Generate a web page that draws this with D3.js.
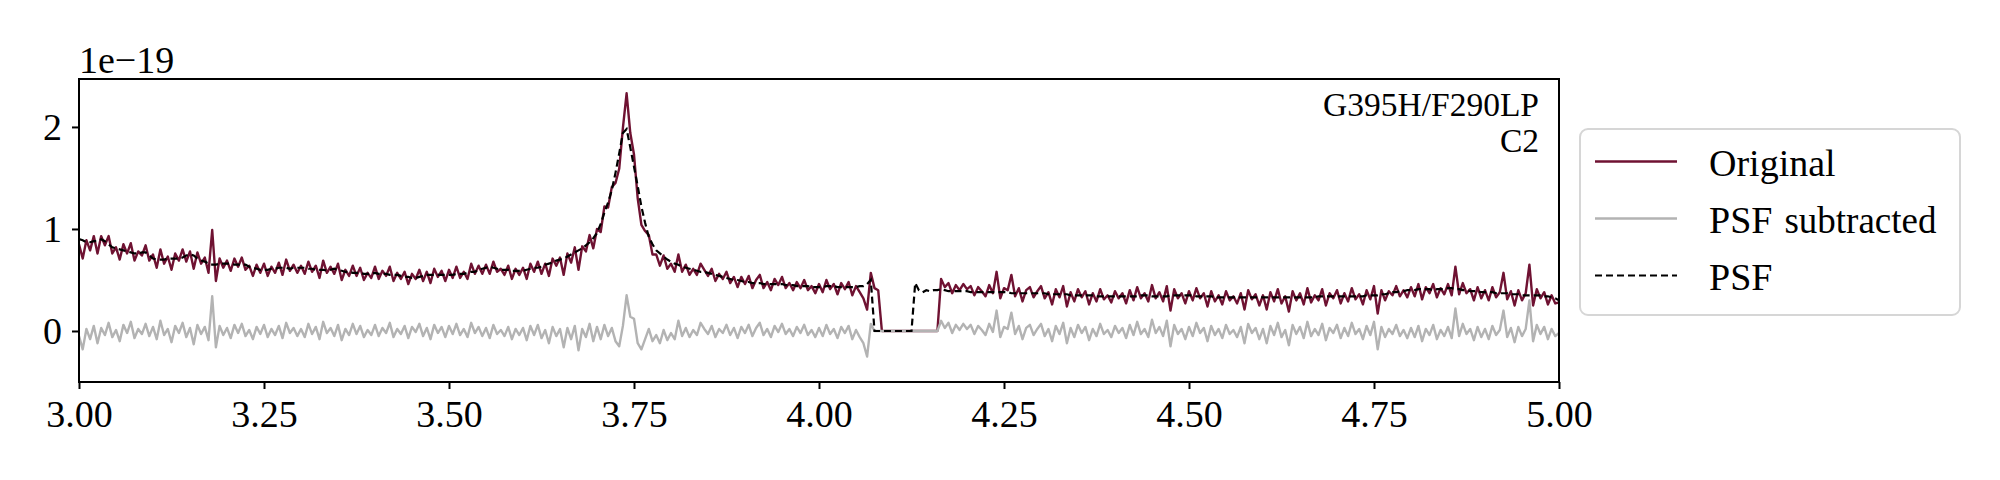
<!DOCTYPE html>
<html><head><meta charset="utf-8">
<script src="https://cdn.jsdelivr.net/npm/d3@7"></script>
<style>body{margin:0;background:#fff;}svg{display:block;}</style>
</head><body>
<svg id="chart" width="2000" height="480"></svg>
<script>
// Sampling grid of the spectrum (micron)
const lambdaStart = 3.0;
const lambdaStep = 0.005;

// PSF model (units of 1e-19)
const psf = [
0.90,0.89,0.87,0.87,0.88,0.88,0.90,0.88,0.85,0.82,0.81,0.80,0.79,0.78,0.77,0.76,0.76,0.77,0.77,0.74,
0.71,0.70,0.70,0.70,0.71,0.71,0.71,0.71,0.72,0.74,0.75,0.74,0.71,0.69,0.68,0.66,0.65,0.65,0.66,0.66,
0.66,0.66,0.65,0.65,0.65,0.65,0.63,0.62,0.61,0.60,0.60,0.60,0.61,0.61,0.62,0.62,0.62,0.61,0.62,0.62,
0.62,0.62,0.61,0.61,0.60,0.60,0.60,0.59,0.60,0.61,0.60,0.59,0.58,0.58,0.57,0.57,0.57,0.56,0.56,0.56,
0.57,0.56,0.56,0.56,0.55,0.55,0.55,0.54,0.53,0.53,0.52,0.52,0.53,0.54,0.55,0.55,0.55,0.55,0.55,0.55,
0.55,0.55,0.56,0.56,0.56,0.57,0.58,0.58,0.60,0.61,0.62,0.63,0.62,0.61,0.60,0.60,0.60,0.59,0.59,0.59,
0.59,0.60,0.61,0.62,0.62,0.63,0.65,0.66,0.67,0.69,0.70,0.71,0.73,0.75,0.77,0.79,0.81,0.84,0.87,0.91,
0.96,1.05,1.16,1.26,1.38,1.55,1.74,1.94,1.98,1.80,1.61,1.42,1.22,1.06,0.92,0.85,0.79,0.76,0.73,0.70,
0.68,0.66,0.65,0.63,0.62,0.61,0.60,0.59,0.58,0.58,0.57,0.56,0.55,0.54,0.53,0.52,0.51,0.50,0.50,0.49,
0.48,0.48,0.47,0.47,0.47,0.46,0.46,0.46,0.46,0.46,0.46,0.45,0.45,0.45,0.44,0.44,0.44,0.44,0.43,0.43,
0.43,0.43,0.44,0.44,0.44,0.43,0.43,0.43,0.43,0.43,0.43,0.44,0.44,0.46,0.50,0,0,
0,0,0,0,0,0,0,0,0,0.47,0.40,0.38,0.40,0.39,0.40,0.40,
0.41,0.40,0.39,0.39,0.39,0.39,0.39,
0.39,0.38,0.38,0.38,0.38,0.38,0.38,0.38,0.38,0.38,0.38,0.38,0.37,0.37,0.37,0.37,0.37,0.37,0.37,0.37,
0.37,0.37,0.36,0.36,0.36,0.36,0.36,0.36,0.35,0.35,0.35,0.35,0.35,0.35,0.35,0.34,0.34,0.34,0.34,0.34,
0.34,0.34,0.34,0.34,0.34,0.34,0.34,0.35,0.35,0.35,0.34,0.34,0.34,0.34,0.34,0.35,0.35,0.35,0.35,0.35,
0.35,0.35,0.34,0.34,0.34,0.34,0.34,0.33,0.33,0.33,0.33,0.33,0.33,0.33,0.33,0.33,0.33,0.33,0.33,0.33,
0.33,0.33,0.33,0.33,0.33,0.33,0.33,0.33,0.33,0.33,0.33,0.33,0.33,0.33,0.33,0.34,0.34,0.34,0.34,0.34,
0.34,0.34,0.34,0.34,0.34,0.34,0.34,0.34,0.35,0.35,0.35,0.35,0.36,0.36,0.37,0.38,0.38,0.39,0.39,0.40,
0.40,0.40,0.41,0.41,0.41,0.41,0.40,0.41,0.41,0.41,0.42,0.42,0.41,0.41,0.40,0.40,0.39,0.39,0.39,0.38,
0.38,0.38,0.38,0.37,0.37,0.37,0.37,0.36,0.36,0.36,0.35,0.35,0.35,0.35,0.35,0.35,0.34,0.34,0.33,0.32,0.30
];

// Original spectrum (units of 1e-19)
const original = [
0.85,0.71,0.89,0.79,0.93,0.76,0.93,0.84,0.93,0.76,0.82,0.70,0.85,0.76,0.86,0.69,0.78,0.74,0.84,0.69,
0.75,0.62,0.80,0.66,0.73,0.60,0.76,0.69,0.80,0.68,0.78,0.61,0.77,0.66,0.72,0.57,0.99,0.49,0.71,0.62,
0.69,0.59,0.71,0.63,0.72,0.60,0.64,0.54,0.65,0.57,0.66,0.54,0.63,0.57,0.67,0.55,0.70,0.59,0.65,0.57,
0.64,0.56,0.68,0.58,0.64,0.52,0.69,0.57,0.63,0.56,0.66,0.50,0.60,0.54,0.64,0.54,0.62,0.50,0.57,0.52,
0.63,0.51,0.59,0.54,0.63,0.49,0.57,0.51,0.58,0.46,0.56,0.51,0.60,0.49,0.58,0.47,0.61,0.53,0.59,0.49,
0.60,0.52,0.63,0.52,0.58,0.51,0.66,0.56,0.64,0.56,0.65,0.56,0.68,0.58,0.61,0.55,0.64,0.51,0.61,0.55,
0.62,0.51,0.66,0.58,0.68,0.56,0.66,0.54,0.71,0.64,0.72,0.55,0.76,0.67,0.82,0.60,0.83,0.78,0.94,0.81,
1.00,0.97,1.22,1.21,1.41,1.45,1.59,1.99,2.33,1.94,1.73,1.30,1.04,0.98,0.94,0.75,0.75,0.64,0.74,0.61,
0.66,0.58,0.75,0.58,0.65,0.55,0.61,0.55,0.66,0.60,0.54,0.61,0.49,0.56,0.51,0.58,0.47,0.53,0.43,0.53,
0.46,0.54,0.42,0.50,0.55,0.42,0.48,0.40,0.51,0.45,0.53,0.42,0.47,0.40,0.48,0.42,0.50,0.40,0.44,0.37,
0.46,0.38,0.50,0.41,0.46,0.36,0.47,0.41,0.48,0.35,0.44,0.38,0.32,0.21,0.57,0.42,0.40,
0,0,0,0,0,0,0,0,0,0,0,0,0,0,0,0,
0.51,0.43,0.47,0.37,0.45,0.40,0.46,
0.41,0.44,0.35,0.43,0.39,0.34,0.45,0.37,0.58,0.32,0.42,0.40,0.55,0.34,0.42,0.29,0.40,0.43,0.33,0.39,
0.44,0.32,0.38,0.26,0.41,0.33,0.44,0.24,0.38,0.29,0.41,0.33,0.39,0.26,0.37,0.29,0.41,0.31,0.35,0.28,
0.39,0.32,0.37,0.27,0.40,0.30,0.43,0.32,0.37,0.29,0.45,0.32,0.38,0.29,0.44,0.20,0.41,0.32,0.37,0.27,
0.39,0.30,0.42,0.32,0.37,0.24,0.39,0.29,0.35,0.26,0.39,0.30,0.34,0.27,0.37,0.21,0.40,0.31,0.36,0.25,
0.35,0.21,0.38,0.29,0.41,0.27,0.34,0.19,0.39,0.30,0.37,0.26,0.42,0.28,0.35,0.30,0.41,0.25,0.37,0.32,
0.40,0.27,0.37,0.29,0.42,0.31,0.36,0.26,0.40,0.31,0.44,0.17,0.40,0.30,0.39,0.35,0.44,0.34,0.40,0.33,
0.43,0.34,0.46,0.31,0.43,0.37,0.46,0.33,0.42,0.36,0.46,0.35,0.63,0.36,0.47,0.37,0.41,0.30,0.43,0.32,
0.40,0.30,0.43,0.33,0.38,0.57,0.31,0.39,0.25,0.40,0.30,0.37,0.65,0.25,0.41,0.32,0.38,0.26,0.35,0.27,0.28
];

// PSF-subtracted spectrum (units of 1e-19)
const subtracted = [
-0.05,-0.18,0.02,-0.08,0.05,-0.12,0.03,-0.04,0.08,-0.06,0.01,-0.10,0.06,-0.02,0.09,-0.07,0.02,-0.03,0.07,-0.05,
0.04,-0.08,0.10,-0.04,0.02,-0.11,0.05,-0.02,0.08,-0.06,0.03,-0.13,0.06,-0.03,0.04,-0.09,0.34,-0.16,0.05,-0.04,
0.03,-0.07,0.06,-0.02,0.07,-0.05,0.01,-0.08,0.04,-0.03,0.06,-0.06,0.02,-0.04,0.05,-0.07,0.08,-0.02,0.03,-0.05,
0.02,-0.06,0.07,-0.03,0.04,-0.08,0.09,-0.02,0.03,-0.05,0.06,-0.09,0.02,-0.04,0.07,-0.03,0.05,-0.06,0.01,-0.04,
0.06,-0.05,0.03,-0.02,0.08,-0.06,0.02,-0.03,0.05,-0.07,0.04,-0.01,0.07,-0.05,0.03,-0.08,0.06,-0.02,0.04,-0.06,
0.05,-0.03,0.07,-0.04,0.02,-0.06,0.08,-0.02,0.04,-0.05,0.03,-0.07,0.06,-0.03,0.01,-0.05,0.04,-0.08,0.02,-0.04,
0.03,-0.09,0.05,-0.04,0.06,-0.07,0.01,-0.12,0.04,-0.05,0.02,-0.16,0.03,-0.08,0.05,-0.19,0.02,-0.06,0.07,-0.10,
0.04,-0.08,0.06,-0.05,0.03,-0.10,-0.15,0.05,0.35,0.14,0.12,-0.12,-0.18,-0.08,0.02,-0.10,-0.04,-0.12,0.01,-0.09,
-0.02,-0.08,0.10,-0.05,0.03,-0.06,0.01,-0.04,0.08,0.02,-0.03,0.05,-0.06,0.02,-0.02,0.06,-0.04,0.03,-0.07,0.04,
-0.02,0.06,-0.05,0.03,0.08,-0.04,0.02,-0.06,0.05,-0.01,0.07,-0.03,0.02,-0.05,0.04,-0.02,0.06,-0.04,0.01,-0.06,
0.03,-0.05,0.06,-0.03,0.02,-0.07,0.04,-0.02,0.05,-0.08,0.01,-0.06,-0.12,-0.25,0.07,0,0,
0,0,0,0,0,0,0,0,0,0,0,0,0,0,0,0,
0.10,0.03,0.08,-0.02,0.06,0.01,0.07,
0.02,0.06,-0.03,0.05,0.01,-0.04,0.07,-0.01,0.20,-0.06,0.04,0.02,0.18,-0.03,0.05,-0.08,0.03,0.06,-0.04,0.02,
0.07,-0.05,0.02,-0.10,0.05,-0.03,0.08,-0.12,0.03,-0.06,0.06,-0.02,0.04,-0.09,0.02,-0.05,0.07,-0.03,0.01,-0.06,
0.05,-0.02,0.03,-0.07,0.06,-0.04,0.09,-0.03,0.02,-0.06,0.11,-0.02,0.04,-0.05,0.10,-0.15,0.06,-0.03,0.02,-0.08,
0.04,-0.05,0.08,-0.02,0.03,-0.10,0.05,-0.04,0.02,-0.07,0.06,-0.03,0.01,-0.06,0.04,-0.12,0.07,-0.02,0.03,-0.08,
0.02,-0.12,0.05,-0.04,0.08,-0.06,0.01,-0.14,0.06,-0.03,0.04,-0.07,0.09,-0.05,0.02,-0.04,0.07,-0.09,0.03,-0.02,
0.06,-0.07,0.03,-0.05,0.08,-0.03,0.02,-0.08,0.05,-0.04,0.09,-0.18,0.04,-0.06,0.02,-0.03,0.06,-0.05,0.01,-0.07,
0.03,-0.06,0.05,-0.10,0.02,-0.04,0.06,-0.08,0.01,-0.05,0.04,-0.07,0.22,-0.05,0.07,-0.03,0.02,-0.09,0.04,-0.06,
0.02,-0.08,0.05,-0.04,0.01,0.20,-0.06,0.03,-0.11,0.04,-0.05,0.02,0.30,-0.10,0.06,-0.03,0.04,-0.08,0.02,-0.05,-0.02
];

const xTicks = [3.00, 3.25, 3.50, 3.75, 4.00, 4.25, 4.50, 4.75, 5.00];
const yTicks = [0, 1, 2];
const seriesNames = ["Original", "PSF", "subtracted", "PSF"];
const annotation = ["G395H/F290LP", "C2"];
const offsetLabel = "1e\u221219";

const FONT = "'Liberation Serif','Times New Roman',Times,serif";
const svg = d3.select("#chart");
const L = 79, R = 1559, T = 79, B = 382;

const x = d3.scaleLinear().domain([3, 5]).range([L, R]);
const y = d3.scaleLinear().domain([-0.5, 2.47]).range([B, T]);

const wave = d3.range(original.length).map(i => lambdaStart + lambdaStep * i);

svg.append("defs").append("clipPath").attr("id", "clip")
  .append("rect").attr("x", L).attr("y", T).attr("width", R - L).attr("height", B - T);

const line = d3.line().x(d => x(d[0])).y(d => y(d[1]));
const plot = svg.append("g").attr("clip-path", "url(#clip)");

const colOrig = "#6f1232", colSub = "#b3b3b3";
const LW = 2.4;
plot.append("path").datum(wave.map((w, i) => [w, original[i]]))
  .attr("d", line).attr("fill", "none").attr("stroke", colOrig).attr("stroke-width", LW).attr("stroke-linejoin", "round");
plot.append("path").datum(wave.map((w, i) => [w, subtracted[i]]))
  .attr("d", line).attr("fill", "none").attr("stroke", colSub).attr("stroke-width", LW).attr("stroke-linejoin", "round");
plot.append("path").datum(wave.map((w, i) => [w, psf[i]]))
  .attr("d", line).attr("fill", "none").attr("stroke", "#000").attr("stroke-width", 2.2)
  .attr("stroke-dasharray", "7,4");

// Axes
const xAxis = d3.axisBottom(x).tickValues(xTicks).tickFormat(d3.format(".2f")).tickSize(7).tickPadding(10);
const yAxis = d3.axisLeft(y).tickValues(yTicks).tickFormat(d3.format("d")).tickSize(7).tickPadding(10);

const gx = svg.append("g").attr("transform", `translate(0,${B})`).call(xAxis);
const gy = svg.append("g").attr("transform", `translate(${L},0)`).call(yAxis);
[gx, gy].forEach(g => {
  g.select(".domain").remove();
  g.selectAll(".tick line").attr("stroke", "#000").attr("stroke-width", 2);
  g.selectAll(".tick text").attr("fill", "#000").style("font-family", FONT).style("font-size", "38px");
});
gx.selectAll(".tick text").attr("dy", null).attr("y", 45).style("dominant-baseline", "alphabetic");
gy.selectAll(".tick text").attr("dy", null).attr("y", 13).style("dominant-baseline", "alphabetic");

// Frame
svg.append("rect").attr("x", L).attr("y", T).attr("width", R - L).attr("height", B - T)
  .attr("fill", "none").attr("stroke", "#000").attr("stroke-width", 2);

// Offset label
svg.append("text").attr("x", 79).attr("y", 73).text(offsetLabel)
  .style("font-family", FONT).style("font-size", "38px").attr("fill", "#000");

// Annotation
annotation.forEach((t, i) => {
  svg.append("text").attr("x", 1539).attr("y", 116 + i * 36).attr("text-anchor", "end").text(t)
    .style("font-family", FONT).style("font-size", "33.5px").attr("fill", "#000");
});

// Legend
const lg = svg.append("g");
lg.append("rect").attr("x", 1580).attr("y", 129).attr("width", 380).attr("height", 186)
  .attr("rx", 8).attr("ry", 8).attr("fill", "#fff").attr("stroke", "#d6d6d6").attr("stroke-width", 2);
const rows = [
  {label: seriesNames[0], color: colOrig, dash: null, base: 175.5},
  {label: seriesNames[1], sub: seriesNames[2], color: colSub, dash: null, base: 232.5},
  {label: seriesNames[3], color: "#000", dash: "7,4", base: 289.5}
];
rows.forEach(r => {
  lg.append("line").attr("x1", 1595).attr("x2", 1677).attr("y1", r.base - 14).attr("y2", r.base - 14)
    .attr("stroke", r.color).attr("stroke-width", r.dash ? 2.2 : LW).attr("stroke-dasharray", r.dash);
  const t = lg.append("text").attr("x", 1709).attr("y", r.base)
    .style("font-family", FONT).style("font-size", "38px").attr("fill", "#000");
  t.append("tspan").text(r.label);
  if (r.sub) t.append("tspan").attr("dx", 12).style("font-size", "37px").text(r.sub);
});
</script>
</body></html>
